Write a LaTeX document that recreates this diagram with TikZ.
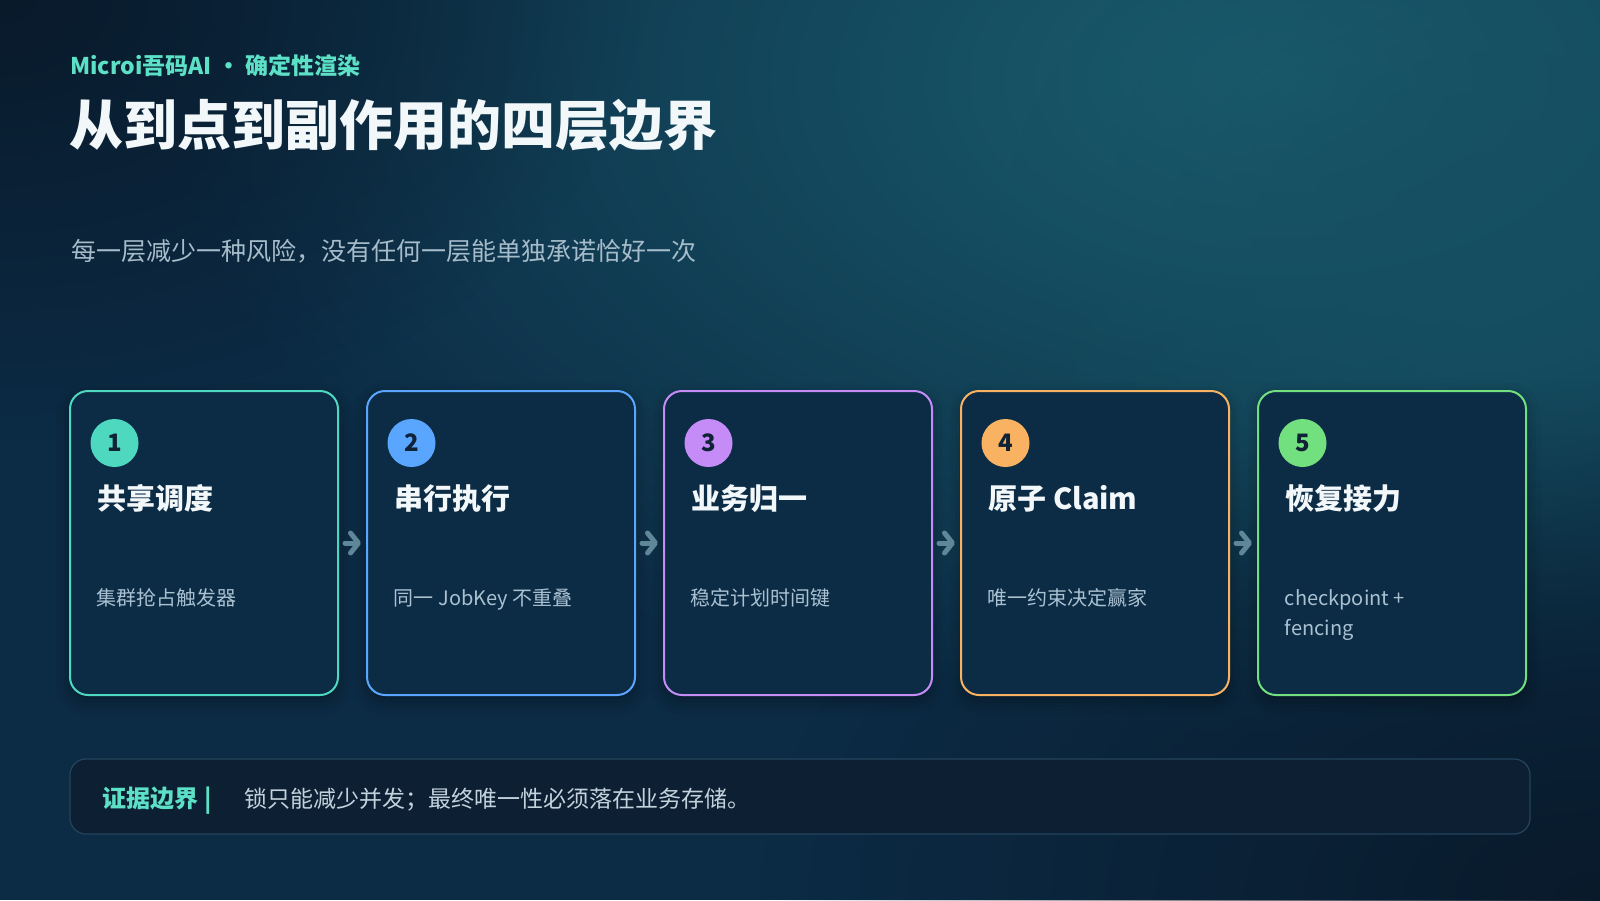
\documentclass[tikz,border=0pt]{standalone}
\usepackage{fontspec}
\setmainfont{Noto Sans CJK SC}
\usetikzlibrary{positioning,arrows.meta,fadings,shadows.blur}

\definecolor{bgbase}{HTML}{0C2B45}
\definecolor{bgteal}{HTML}{1A5E6E}
\definecolor{bgdark}{HTML}{091A2B}
\definecolor{cardfill}{HTML}{0C2B45}
\definecolor{kickercol}{HTML}{5CE1C6}
\definecolor{titlecol}{HTML}{F2F7FA}
\definecolor{leadcol}{HTML}{A7BCCA}
\definecolor{desccol}{HTML}{A9C1D1}
\definecolor{numcol}{HTML}{0F2236}
\definecolor{flowcol}{HTML}{5E8798}
\definecolor{evfill}{HTML}{0C1F33}
\definecolor{evline}{HTML}{24445C}
\definecolor{evtext}{HTML}{C3D2DC}
\definecolor{tealc}{HTML}{4FD8C0}
\definecolor{bluec}{HTML}{5AA6FF}
\definecolor{purplec}{HTML}{C58CF7}
\definecolor{orangec}{HTML}{F8B262}
\definecolor{greenc}{HTML}{72E07F}

\tikzfading[name=softglow, inner color=transparent!0, outer color=transparent!100]

\begin{document}
\begin{tikzpicture}[x=0.5pt,y=-0.5pt,
    card/.style={draw=#1, line width=1pt, fill=cardfill, rounded corners=9pt,
        minimum width=134pt, minimum height=152pt, inner sep=0pt,
        blur shadow={shadow xshift=0pt, shadow yshift=-3pt, shadow blur radius=7pt, shadow opacity=35}},
    numdot/.style={circle, fill=#1, minimum size=24pt, inner sep=0pt, text=numcol,
        font=\fontsize{12pt}{14pt}\selectfont\bfseries},
    cardtitle/.style={anchor=base west, inner sep=0pt, text=titlecol, font=\fontsize{14.5pt}{17pt}\selectfont\bfseries},
    carddesc/.style={anchor=base west, inner sep=0pt, text=desccol, align=left, font=\fontsize{10pt}{15pt}\selectfont},
    flow/.style={draw=flowcol, line width=2.5pt, line cap=round, shorten <=3pt, shorten >=2.5pt,
        -{Straight Barb[length=4pt, width=10pt, line cap=round, round]}},
    node distance=13.5pt]

    \useasboundingbox (0,0) rectangle (1600,900);
    \fill[bgbase] (0,0) rectangle (1600,900);
    \fill[bgteal, path fading=softglow] (1280,80) ellipse [x radius=560pt, y radius=330pt];
    \fill[bgteal!70!bgbase, path fading=softglow] (1500,250) ellipse [x radius=250pt, y radius=200pt];
    \fill[bgdark, path fading=softglow] (0,0) ellipse [x radius=320pt, y radius=220pt];
    \fill[bgdark, path fading=softglow] (1600,900) ellipse [x radius=420pt, y radius=260pt];

    \node[anchor=base west, inner sep=0pt, text=kickercol, font=\fontsize{11.5pt}{14pt}\selectfont\bfseries] (kicker) at (70,74) {Microi吾码AI • 确定性渲染};
    \node[anchor=base west, inner sep=0pt, text=titlecol, font=\fontsize{27pt}{32pt}\selectfont\bfseries] (headline) at (69,145) {从到点到副作用的四层边界};
    \node[anchor=base west, inner sep=0pt, text=leadcol, font=\fontsize{12.5pt}{15pt}\selectfont] (lead) at (71,260) {每一层减少一种风险，没有任何一层能单独承诺恰好一次};

    \node[card=tealc] (card1) at (204,543) {};
    \node[card=bluec, right=of card1] (card2) {};
    \node[card=purplec, right=of card2] (card3) {};
    \node[card=orangec, right=of card3] (card4) {};
    \node[card=greenc, right=of card4] (card5) {};

    \node[numdot=tealc] (num1) at ([xshift=22.75pt,yshift=-26.5pt]card1.north west) {1};
    \node[numdot=bluec] (num2) at ([xshift=22.75pt,yshift=-26.5pt]card2.north west) {2};
    \node[numdot=purplec] (num3) at ([xshift=22.75pt,yshift=-26.5pt]card3.north west) {3};
    \node[numdot=orangec] (num4) at ([xshift=22.75pt,yshift=-26.5pt]card4.north west) {4};
    \node[numdot=greenc] (num5) at ([xshift=22.75pt,yshift=-26.5pt]card5.north west) {5};

    \node[cardtitle] (title1) at ([xshift=14pt,yshift=-59.75pt]card1.north west) {共享调度};
    \node[cardtitle] (title2) at ([xshift=14pt,yshift=-59.75pt]card2.north west) {串行执行};
    \node[cardtitle] (title3) at ([xshift=14pt,yshift=-59.75pt]card3.north west) {业务归一};
    \node[cardtitle] (title4) at ([xshift=14pt,yshift=-59.75pt]card4.north west) {原子 Claim};
    \node[cardtitle] (title5) at ([xshift=14pt,yshift=-59.75pt]card5.north west) {恢复接力};

    \node[carddesc] (desc1) at ([xshift=13.75pt,yshift=-107.75pt]card1.north west) {集群抢占触发器};
    \node[carddesc] (desc2) at ([xshift=13.75pt,yshift=-107.75pt]card2.north west) {同一 JobKey 不重叠};
    \node[carddesc] (desc3) at ([xshift=13.75pt,yshift=-107.75pt]card3.north west) {稳定计划时间键};
    \node[carddesc] (desc4) at ([xshift=13.75pt,yshift=-107.75pt]card4.north west) {唯一约束决定赢家};
    \node[carddesc] (desc5) at ([xshift=13.75pt,yshift=-122.75pt]card5.north west) {checkpoint +\\fencing};

    \draw[flow] (card1) -- (card2);
    \draw[flow] (card2) -- (card3);
    \draw[flow] (card3) -- (card4);
    \draw[flow] (card4) -- (card5);

    \node[draw=evline, line width=0.6pt, fill=evfill, rounded corners=8pt, minimum width=730pt, minimum height=37.5pt] (ev) at (800,796.5) {};
    \node[anchor=base west, inner sep=0pt, text=kickercol, font=\fontsize{12pt}{14pt}\selectfont\bfseries] (evtag) at ([xshift=16.5pt,yshift=-5.5pt]ev.west) {证据边界 |};
    \node[anchor=base west, inner sep=0pt, text=evtext, font=\fontsize{11.5pt}{14pt}\selectfont] (evbody) at ([xshift=87.5pt,yshift=-5.5pt]ev.west) {锁只能减少并发；最终唯一性必须落在业务存储。};
\end{tikzpicture}
\end{document}
